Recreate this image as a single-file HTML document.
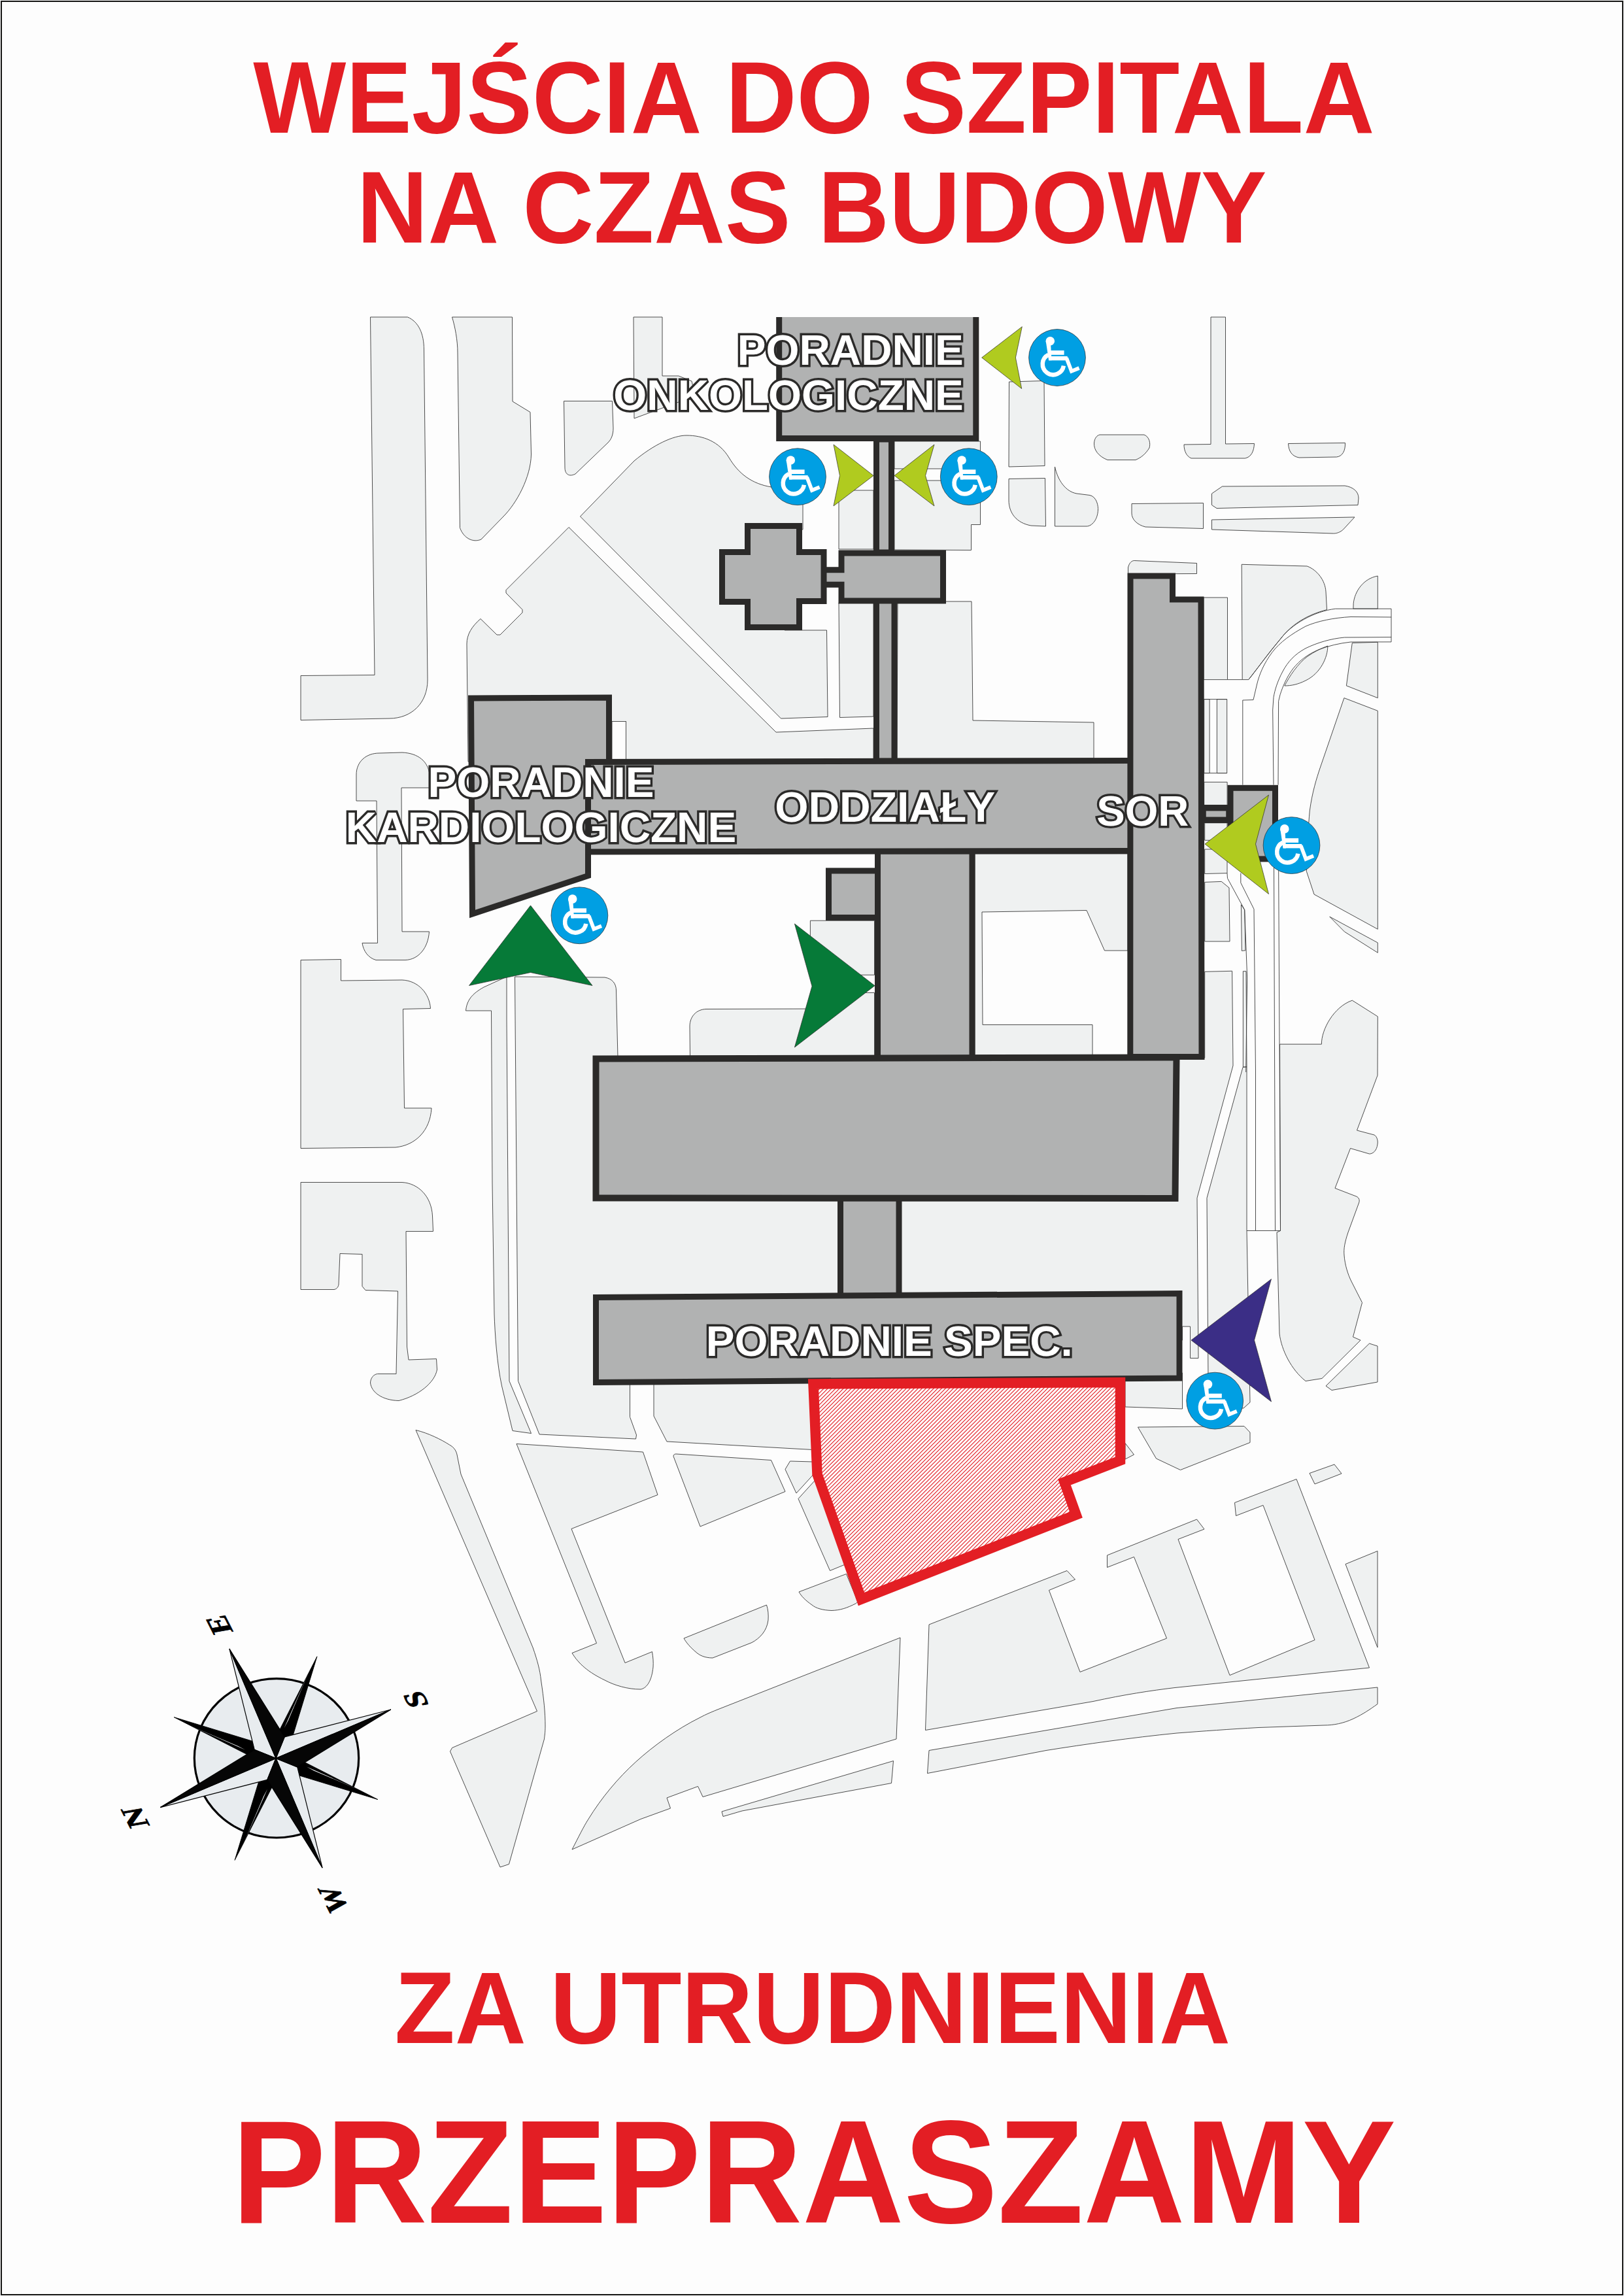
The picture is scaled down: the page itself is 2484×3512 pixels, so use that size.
<!DOCTYPE html>
<html><head><meta charset="utf-8">
<style>
html,body{margin:0;padding:0;background:#fdfdfd;}
svg{display:block;}
.t{font-family:"Liberation Sans",sans-serif;font-weight:bold;fill:#e31e24;text-anchor:middle;}
.lb{font-family:"Liberation Sans",sans-serif;font-weight:bold;font-size:65.2px;fill:#fff;stroke:#2b2a29;stroke-width:6.8;paint-order:stroke fill;stroke-linejoin:miter;stroke-miterlimit:2.5;}
.lg{fill:#eff1f1;stroke:#3a3a3a;stroke-width:0.9;stroke-linejoin:round;}
.ln{fill:none;stroke:#3a3a3a;stroke-width:0.9;}
.b{fill:#b1b2b2;stroke:#2b2a29;stroke-width:9;stroke-linejoin:miter;}
.cp{font-family:"Liberation Serif",serif;font-weight:bold;font-size:46px;text-anchor:middle;fill:#000;stroke:#000;stroke-width:0.8;}
</style></head>
<body>
<svg width="2484" height="3512" viewBox="0 0 2484 3512">
<defs>
<pattern id="hatch" width="6" height="6" patternUnits="userSpaceOnUse">
<rect width="6" height="6" fill="#fff"/>
<path d="M-1,7 L7,-1 M-1,1 L1,-1 M5,7 L7,5" stroke="#e31e24" stroke-width="1.2"/>
</pattern>
<g id="wc">
<circle r="43.4" fill="#009fe3" stroke="#2b2a29" stroke-width="0.7"/>
<circle cx="-10.7" cy="-25.2" r="6.8" fill="#fff"/>
<path d="M-17.3,-25.3 L-9.8,-19 L-8.5,4.3 L-12.9,4.3 Z" fill="#fff"/>
<rect x="-10" y="-10.9" width="20.6" height="6.7" fill="#fff"/>
<rect x="-12.9" y="-2.1" width="28.6" height="6.4" fill="#fff"/>
<path d="M14.2,0.5 L21.9,20.8 L33.6,16" stroke="#fff" stroke-width="5.7" fill="none" stroke-linejoin="miter" stroke-miterlimit="6"/>
<path d="M-13.5,-4.35 A16.2,16.2 0 1 0 9.9,12.6" fill="none" stroke="#fff" stroke-width="6.5"/>
</g>
</defs>
<rect x="0" y="0" width="2484" height="3512" fill="#fdfdfd"/>
<g class="lg">
<!-- top-left -->
<path d="M566.5,485 L623.5,485 C640,492 648.5,510 648.5,535 L654,1040 C654,1075 630,1099 595,1099 L460,1101.5 L460,1033.5 L573,1032.5 Z"/>
<path d="M691.5,485 L783.5,485 L784,614 L811,630.5 L812.5,695 C812,730 790,770 770,790 L736,825 C725,830 710,825 703.5,807.5 L700,540 C700,520 696,500 691.5,485 Z"/>
<path d="M862.5,613.5 L936.5,613.5 L938,655 C938,665 935,672 930,677 L880,725 C870,730 864,725 864,715 Z"/>
<path d="M969,485 L1013,485 L1013,575 L1038,575 L1058,583 L1062,600 L1038,615 L970,640 Z"/>
<path d="M887.5,790 L970,705 C1000,680 1030,666 1050,666 C1075,666 1100,675 1115,700 C1130,725 1150,740 1180,745 L1228,750 L1228,810 L1200,810 L1200,964 L1264.5,964 L1266,1096.5 L1194.5,1099 Z"/>
<path d="M870,806.5 L774,902.5 L774,907 L799,932.5 L799,937 L765,971 L760,971 L735,946.5 C722,958 714,970 714,985 L716,1165 L1336,1165 L1336,1114 L1187,1120 Z"/>
<path d="M1283,922 L1336,922 L1336,1096 L1284.5,1097.5 Z"/>
<path d="M1283,750 L1336,750 L1336,840 L1283,840 Z"/>
<path d="M1368,675 L1499.5,675 L1499.5,802.5 L1485.5,802.5 L1485.5,841.5 L1368,841 Z"/>
<path d="M1373,920 L1486,920 L1487,1000 L1488,1102 L1673,1105 L1673,1160 L1372,1160 Z"/>
<!-- top-right small shapes -->
<path d="M1543.5,584 L1597,582.5 L1598,712.5 L1543,714 Z"/>
<path d="M1543,732.5 L1598.5,731.5 L1599.5,805 L1577,804 C1555,800 1543,785 1543,765 Z"/>
<path d="M1613.5,714 C1618,735 1630,752 1647,755 L1667,757.5 C1678,760 1680,775 1679.5,780 C1679,795 1670,805 1662,805 L1613.5,805 Z"/>
<path d="M1682,665 L1750,665 C1758,668 1760,678 1758,685 C1752,695 1745,700 1737,703.5 L1694,703.5 C1680,698 1673,688 1673.5,678 C1674,670 1678,666 1682,665 Z"/>
<path d="M1852,485 L1874.5,485 L1874.5,679 L1918.5,678.5 C1918,690 1914,699 1904.5,701 L1822,701 C1815,698 1811,690 1811,680 L1852,679.5 Z"/>
<path d="M1970.5,678.5 L2057.5,677.5 C2058,690 2053,698 2044.5,699 L1987,700 C1976,698 1971,690 1970.5,678.5 Z"/>
<path d="M1853.5,755 L1869.5,744 L2057,743 C2070,745 2078,752 2078,762 L2077,772.5 L1861,777.5 L1853.5,772.5 Z"/>
<path d="M1853.5,795 L2072,791 L2054.5,810 C2050,814 2045,816 2039.5,816 L1853.5,810 Z"/>
<path d="M1731,770.5 L1840.5,769.5 L1840.5,808.5 L1752,806 C1740,803 1731,795 1731,785 Z"/>
<path d="M1725.5,878 L1725.5,868 C1727,862 1730,858 1734.5,857.5 L1830.5,861.5 L1830.5,877.5 Z"/>
<!-- right of SOR -->
<path d="M1841,914 L1877.5,914 L1877.5,1039.6 L1841,1039.6 Z"/>
<path d="M1899.2,863.3 L1999.3,866 C2015,872 2027,888 2028,905 L2029.5,932.6 C2000,940 1975,955 1958,978 C1940,1000 1925,1020 1909.7,1039.6 L1900.2,1039.6 Z"/>
<path d="M2030.8,988 C2031,1005 2020,1030 1997,1041 C1985,1047 1975,1049 1964.8,1049 C1972,1035 1985,1015 2000,1004 C2010,997 2020,992 2030.8,988 Z"/>
<path d="M2107.3,881 C2085,885 2072,905 2070.2,922.8 L2069.9,931.2 L2107.3,931.2 Z"/>
<path d="M2068.3,983.4 L2107.3,982.3 L2107.3,1067.6 L2059.4,1048.9 Z"/>
<path d="M2055.9,1067.6 L2107.3,1087.3 L2107.3,1421.3 L2010,1368 L1998.3,1332.6 C1999,1300 2001,1265 2003.3,1240 C2007,1212 2014,1190 2019,1175 Z"/>
<path d="M2033.8,1402.2 L2107.3,1442 L2107.3,1457.3 L2056.5,1425.2 Z"/>
<path d="M2068.3,1530.2 L2107.3,1554.9 L2107,1645 L2075.5,1729 L2102,1736 C2106,1738 2108,1745 2107,1750 C2106,1760 2100,1765 2094.5,1765 L2065.5,1756.5 L2042,1817.5 L2074.5,1830 C2079,1832 2080,1836 2078.5,1840 L2062,1885 C2057,1900 2055,1910 2056,1920 C2057,1935 2062,1950 2067,1960 L2083.5,1992.5 L2069.5,2045 L2081,2050 L2022,2108.5 L1997,2112.5 C1975,2095 1960,2065 1957,2040 L1953,1885 L1958.5,1882.5 L1957.5,1597.2 L2021.4,1597.2 C2021,1575 2040,1540 2068.3,1530.2 Z"/>
<path d="M2094.5,2055 L2107,2059 L2107,2114 L2037,2126.5 L2028,2120 Z"/>
<rect x="1841.7" y="1069.6" width="8.4" height="113"/>
<rect x="1861.4" y="1069.6" width="15.3" height="113"/>
<rect x="1841.7" y="1196.3" width="35.4" height="36"/>
<path d="M1842.7,1258.7 L1877,1258.7 L1877,1285.3 L1842.7,1285.3 Z"/>
<path d="M1842.7,1299 L1877,1299 L1877,1335.6 L1842.7,1336.5 Z"/>
<path d="M1842.7,1349.4 L1868.3,1348.4 L1880,1358 L1881,1440 L1842.7,1440 Z"/>
<path d="M1898.4,1383.8 L1903.7,1391.7 L1905,1453.8 L1899.4,1454.4 Z"/>
<path d="M1901.4,1485.7 L1906,1485.7 L1907,1632 L1901.4,1632 Z"/>
<path d="M1901,1632.5 L1907,1632 L1907,1882.5 L1912,2145 L1902,2154 L1850,2154 L1848,2110 L1846,1832.5 Z"/>
</g>
<g class="lg">
<!-- left column -->
<path d="M545,1225 L545,1185 C545,1165 560,1152 580,1152 L615,1151 C640,1152 655,1165 657,1185 L657,1205 L614,1205 L615,1425 L656.5,1425 C655,1450 640,1468 620,1468.5 L575,1468.5 C563,1465 556,1455 554,1442.5 L577.5,1442.5 L576,1225 Z"/>
<path d="M460,1468.5 L521.5,1467.5 L521.5,1500 L615,1499 C640,1500 657,1520 658.5,1542.5 L616.5,1543.5 L618.5,1695 L660,1695 C658,1730 635,1752 605,1755 L460,1756.5 Z"/>
<path d="M460,1808.5 L615,1808.5 C640,1810 660,1830 661.5,1860 L662.5,1883.5 L621,1883.5 L622.5,2060 L625,2080 L667.5,2078.5 L668.5,2095 C665,2115 640,2135 610,2142.5 C585,2142 568,2130 566.5,2115 C567,2107 572,2102 577.5,2101.5 L606,2101.5 L608.5,1975 L559,1973.5 L554,1967.5 L554,1918.5 L520,1917.5 L518,1965 C517,1970 514,1972 511,1972.5 L460,1972.5 Z"/>
<!-- strip left of big block -->
<path d="M712.5,1546 C714,1530 722,1520 740,1510 L775,1494 L775,1560 L779,2112.5 L812.5,2192.5 L784,2188.5 L767.5,2120 C760,2085 757,2040 756,2010 L753,1810 L751.5,1546 Z"/>
<!-- big region around main buildings -->
<path d="M787.5,1494 L925,1495 C937,1497 942.5,1505 942.5,1515 L945,1618 L1842.7,1618 L1842.7,1486.3 L1884.6,1485.3 L1886,1630 L1831,1832.5 L1833,2077.5 L1820.5,2077.5 L1820.5,2029 L1808.5,2029 L1808.5,2050 L963.5,2050 L963.5,2167.5 L973.5,2195 L972.5,2201 L825,2194 L792.5,2112.5 Z"/>
<path d="M1055.8,1640 L1055,1570 C1055,1555 1065,1544 1080,1543.5 L1270,1543 L1270,1518.5 L1337.5,1518.5 L1337.5,1640 Z"/>
<path d="M1239.4,1408.2 L1337.5,1408.2 L1337.5,1491.3 L1239.4,1491.3 Z"/>
<path d="M1491,1306 L1725,1306 L1725,1454 L1689.5,1454 L1662,1392.5 L1502,1395 L1503,1567.5 L1671,1567.5 L1671,1620 L1491,1620 Z"/>
<path d="M1000,2100 L1000,2166 L1020,2205 L1243,2217.5 L1243,2100 Z"/>
<path d="M1721,2100 L1808.5,2100 L1808.5,2155 L1721,2152 Z"/>
<!-- bottom area -->
<path d="M636,2187.5 C655,2192 675,2202 687.5,2210 C695,2214 698,2220 699,2225 L705,2255 L815,2520 C822,2540 826,2555 827.5,2570 C832,2600 834,2620 834,2640 C834,2650 833,2655 832.5,2660 L778.5,2851.5 L765,2856 L688.5,2679 L691.5,2673.5 L821.5,2617.5 Z"/>
<path d="M790,2208.5 L983.5,2221 L1006,2286.5 L874,2338.5 L956,2543.5 L997.5,2526.5 C999,2535 999.5,2543 999,2550 C997,2570 990,2582 980,2584 C960,2584 940,2578 925,2570 C900,2558 885,2545 875,2528.5 L912.5,2513.5 Z"/>
<path d="M1030,2227.5 C1030,2225 1032,2224 1034,2224 L1179.5,2233.5 L1201,2281.5 L1071,2335 Z"/>
<path d="M1208.5,2235 L1244.5,2236 L1244.5,2255 L1218,2284 L1201,2247.5 Z"/>
<path d="M1221,2292.5 L1246,2265 L1300,2390 L1269.5,2402.5 Z"/>
<path d="M1222,2435 L1294.5,2407.5 L1312,2450 L1309.5,2452.5 C1295,2460 1285,2463 1272,2463.5 C1258,2463 1248,2460 1242,2455 C1232,2448 1226,2442 1222,2435 Z"/>
<path d="M1046,2506 L1172.5,2455 C1175,2462 1175.5,2470 1175,2478 C1173,2495 1162,2506 1150,2512.5 L1090,2536 C1078,2536 1070,2532 1065,2527.5 C1056,2520 1050,2513 1046,2506 Z"/>
<path d="M875,2829 C885,2810 892,2795 900,2782.5 C920,2750 945,2720 972.5,2695 C1000,2670 1035,2645 1070,2627.5 C1080,2622 1090,2618 1100,2614 L1377,2505 L1371,2660 L1075,2748.5 L1067.5,2732.5 L1020,2750 L1025.5,2766 L980,2782.5 Z"/>
<path d="M1104,2771 L1366.5,2693.5 L1363.5,2727.5 L1135,2770 L1106,2778.5 Z"/>
<path d="M1421,2485 L1632,2402.5 L1644.5,2416 L1604.5,2432.5 L1652,2557.5 L1784.5,2506 L1734.5,2381.5 L1693.5,2397.5 L1693.5,2379 L1830.5,2324 L1842,2339 L1802,2354.5 L1881,2562.5 L2011,2508.5 L1932,2302.5 L1890.5,2318.5 L1888.5,2298.5 L1983,2262.5 L2094.5,2551 L1797,2581.5 C1760,2586 1720,2592 1672,2602.5 L1415.5,2646.5 Z"/>
<path d="M2003,2253.5 L2041,2240 L2052,2254 L2011,2270 Z"/>
<path d="M2058,2392.5 L2107,2372.5 L2107,2520 Z"/>
<path d="M1421,2677.5 L1800,2612.5 L2107,2581 L2107,2606.5 C2095,2615 2085,2622 2070,2629 C2055,2636 2040,2639 2025,2639 L1925,2642.5 C1880,2645 1840,2648 1800,2651 C1730,2658 1660,2668 1600,2677.5 L1418.5,2712.5 Z"/>
<path d="M1740.5,2183 L1903,2181.5 L1912,2191 L1912,2206.5 L1805.5,2248.5 L1768.5,2231 Z"/>
<path d="M1721,2207.5 L1734.5,2225 L1721,2232 Z"/>
</g>
<!-- white cutouts & thin lines -->
<g fill="#fdfdfd" stroke="#3a3a3a" stroke-width="0.9">
<rect x="936" y="1103.5" width="21.5" height="58.5"/>
<rect x="1368" y="717" width="72" height="18" stroke="none"/>
</g>
<g class="ln">
<path d="M1368,717 L1440,717 M1368,735 L1440,735"/>
<path d="M2128,931.2 L2042.7,931.2 C2010,935 1975,955 1958,978 C1935,1005 1922,1025 1909.7,1039.6"/>
<path d="M2128,944 L2066,943.5 C2040,945 2015,950 1997,958 C1975,970 1958,982 1946,997.6 C1933,1015 1926,1032 1922.5,1047 L1917,1070.5 L1900.8,1071 L1900.8,1200.6"/>
<path d="M2128,974.6 L2056.5,975 C2035,977 2015,983 1997,991.7 C1980,1001 1970,1012 1962,1027 C1954,1042 1950,1055 1948,1066.6 L1946.7,1086 L1948,1200.6"/>
<path d="M2128,981.9 L2066,982 C2048,984 2032,988 2017,993.7 C2000,1001 1988,1010 1977.6,1023 C1968,1036 1962,1050 1958,1062.7 L1955.6,1072.5 L1955,1200.6"/>
<path d="M2128,931.2 L2128,981.9"/>
<path d="M1877.5,1039.6 L1900.2,1039.6 M1841.7,1069.6 L1876.7,1069.6 M1841.7,1182.5 L1877,1182.5"/>
<path d="M1877,1335.6 L1877.5,1343.4 L1903.7,1391.7 L1907.7,1496 L1905.7,1640"/>
<path d="M1897.8,1335.6 L1897.8,1350.3 L1918,1390.7 L1920.5,1640 L1920.5,1882.5"/>
<path d="M1948.5,1318 L1950.5,1882.5 M1955.6,1318 L1958.5,1882.5 M1907,1882.5 L1958.5,1882.5"/>
</g>

<!--LINES-->
<g class="b">
<!-- Onko -->
<path d="M1191.7,485 L1191.7,670.5 L1492.8,670.5 L1492.8,485" stroke-linecap="butt"/>
<!-- corridor -->
<rect x="1340.5" y="672" width="23" height="173" stroke-width="9"/>
<rect x="1340.5" y="918" width="27.5" height="246" stroke-width="9"/>
<!-- cross connector -->
<!-- small horizontal -->
<path d="M1287,846 L1442.5,846 L1442.5,919 L1287,919 L1287,894.2 L1258,894.2 L1258,871.7 L1287,871.7 Z"/>
<!-- cross -->
<path d="M1143.5,804.5 L1222.5,804.5 L1222.5,844.5 L1260,844.5 L1260,919.5 L1222.5,919.5 L1222.5,959.5 L1143.5,959.5 L1143.5,920.5 L1104.5,920.5 L1104.5,844.5 L1143.5,844.5 Z"/>
<!-- SOR annex + connector -->
<rect x="1840" y="1235.7" width="40" height="18.6" stroke-width="9.5"/>
<rect x="1882" y="1205.3" width="68.5" height="108.6"/>
<!-- Kardio -->
<path d="M720.5,1068 L931.5,1067 L931.5,1165.5 L899.5,1165.5 L899.5,1339.5 L722.5,1398 Z"/>
<!-- center vertical -->
<rect x="1342.5" y="1302" width="144.5" height="317"/>
<!-- annex -->
<rect x="1267.5" y="1332" width="75" height="71.5"/>
<!-- ODDZIALY -->
<path d="M1729.5,1163.5 L899.5,1165.5 L899.5,1303 L1729.5,1301.5"/>
<!-- SOR -->
<path d="M1729,881 L1793.5,881 L1793.5,917 L1837,917 L1838,1616.5 L1728.8,1616.5 Z"/>
<!-- connector main-spec -->
<rect x="1285.5" y="1832" width="89.5" height="153" stroke-width="9"/>
<!-- main -->
<path d="M911.5,1619.5 L1799.5,1617.5 L1797.5,1833 L911.5,1832.5 Z" stroke-width="10"/>
<!-- spec -->
<path d="M911.5,1984.5 L1804,1978.5 L1804,2108 L911.5,2114.5 Z"/>
</g>

<path d="M1244,2117 L1713.5,2114.5 L1713.5,2234 L1628,2267 L1646,2317 L1317.5,2446 L1250,2255 Z" fill="url(#hatch)" stroke="#e31e24" stroke-width="15.5" stroke-linejoin="miter"/>

<g stroke="#2b2a29" stroke-width="0.7" stroke-linejoin="miter">
<path d="M1501.7,547 L1563.3,499.7 L1553.4,547 L1562.7,594.5 Z" fill="#b0cb1f"/>
<path d="M1336,727.5 L1275,680 L1284.5,727.5 L1275,774 Z" fill="#b0cb1f"/>
<path d="M1368,727.5 L1429,680 L1415.5,727.5 L1429,774 Z" fill="#b0cb1f"/>
<path d="M1843,1291 L1940.5,1216 L1920.5,1291 L1940.5,1367.5 Z" fill="#b0cb1f"/>
<path d="M811.5,1385 L717.5,1507.5 L811.5,1487.5 L906,1507.5 Z" fill="#067a38"/>
<path d="M1338,1507.7 L1215.4,1413 L1242,1508.5 L1215.4,1602 Z" fill="#067a38"/>
<path d="M1822,2050 L1944.5,1956.5 L1918.5,2050 L1944.5,2144 Z" fill="#3b2e86"/>
</g>
<use href="#wc" x="1617" y="547"/>
<use href="#wc" x="1220" y="729.2"/>
<use href="#wc" x="1481.8" y="729.2"/>
<use href="#wc" x="886.4" y="1400.3"/>
<use href="#wc" x="1975.5" y="1293.1"/>
<use href="#wc" x="1858.2" y="2142.6"/>

<g class="lb">
<text transform="translate(1473.8,558.2) scale(1.006,1)" text-anchor="end">PORADNIE</text>
<text transform="translate(1473.8,627.4) scale(1.006,1)" text-anchor="end">ONKOLOGICZNE</text>
<text transform="translate(827.5,1219) scale(1.006,1)" text-anchor="middle">PORADNIE</text>
<text transform="translate(827.5,1288) scale(1.006,1)" text-anchor="middle">KARDIOLOGICZNE</text>
<text transform="translate(1353.7,1256.5) scale(1.012,1)" text-anchor="middle">ODDZIAŁY</text>
<text transform="translate(1747.8,1263.3) scale(1.0,1)" text-anchor="middle">SOR</text>
<text transform="translate(1360.2,2074) scale(1.006,1)" text-anchor="middle">PORADNIE SPEC.</text>
</g>

<ellipse cx="423" cy="2689.3" rx="125.7" ry="121.7" fill="#e8ecef" stroke="#000" stroke-width="3.2"/>
<g transform="translate(422,2689.6) rotate(-113)">
<!-- minor points -->
<g fill="#000" stroke="#000" stroke-width="0.8" stroke-linejoin="miter">
<path d="M0,0 L23.3,-4.9 L118.8,-118.8 L4.9,-23.3 Z"/>
<path d="M0,0 L23.3,4.9 L118.8,118.8 L4.9,23.3 Z"/>
<path d="M0,0 L-23.3,4.9 L-118.8,118.8 L-4.9,23.3 Z"/>
<path d="M0,0 L-23.3,-4.9 L-118.8,-118.8 L-4.9,-23.3 Z"/>
</g>
<g fill="#e8ecef" stroke="none">
<path d="M30,-38 L96,-100 L40,-46 Z"/>
<path d="M38,30 L100,96 L46,40 Z"/>
<path d="M-30,38 L-96,100 L-40,46 Z"/>
<path d="M-38,-30 L-100,-96 L-46,-40 Z"/>
</g>
<!-- main points: light halves -->
<g fill="#e8ecef" stroke="#000" stroke-width="1.2" stroke-linejoin="miter">
<path d="M0,0 L0,-192 L-25,-25 Z"/>
<path d="M0,0 L182,0 L25,-25 Z"/>
<path d="M0,0 L0,191 L25,25 Z"/>
<path d="M0,0 L-182,0 L-25,25 Z"/>
</g>
<g fill="#060606" stroke="#000" stroke-width="1.2" stroke-linejoin="miter">
<path d="M0,0 L0,-192 L25,-25 Z"/>
<path d="M0,0 L182,0 L25,25 Z"/>
<path d="M0,0 L0,191 L-25,25 Z"/>
<path d="M0,0 L-182,0 L-25,-25 Z"/>
</g>
</g>

<text class="cp" transform="matrix(-0.4635,-0.9167,0.985,-0.17,206.9,2780.1)" x="0" y="15.2">N</text>
<text class="cp" transform="matrix(-0.4500,-0.8900,0.985,-0.17,335.2,2485.3)" x="0" y="15.2">E</text>
<text class="cp" transform="matrix(-0.4635,-0.9167,0.985,-0.17,635.8,2599.6)" x="0" y="15.2">S</text>
<text class="cp" transform="matrix(-0.4275,-0.8455,0.985,-0.17,510,2905.5)" x="0" y="15.2">W</text>
<!--TITLES-->
<text class="t" transform="translate(1244.9,203) scale(0.9625,1)" font-size="156.5">WEJŚCIA DO SZPITALA</text>
<text class="t" transform="translate(1241.5,371) scale(0.9625,1)" font-size="156.5">NA CZAS BUDOWY</text>
<text class="t" transform="translate(1242.7,3124.8) scale(0.9655,1)" font-size="156.5">ZA UTRUDNIENIA</text>
<text class="t" transform="translate(1245,3400) scale(0.958,1)" font-size="224.5">PRZEPRASZAMY</text>
<rect x="2" y="2" width="2480" height="3508" fill="none" stroke="#161614" stroke-width="2"/>
</svg>
</body></html>
